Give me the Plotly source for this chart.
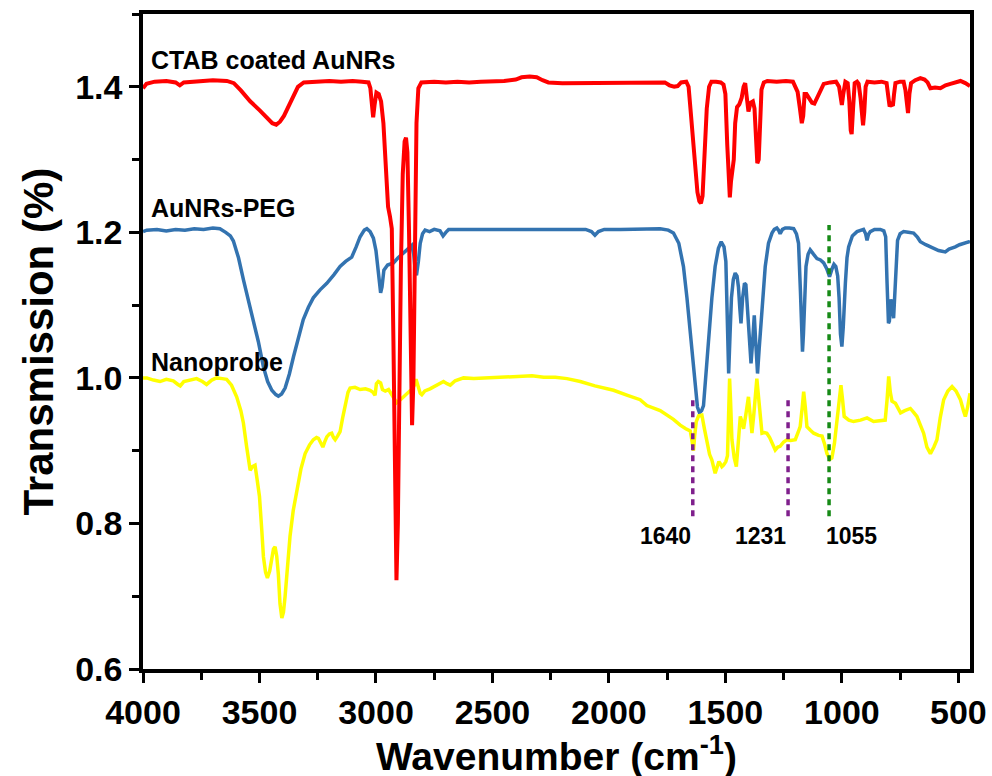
import plotly.graph_objects as go

# FTIR spectra (wavenumber in cm-1, transmission)
ctab_x = [4000, 3985, 3950, 3900, 3860, 3842, 3825, 3760, 3700, 3640, 3610, 3580, 3540, 3500, 3470, 3445,
          3428, 3412, 3395, 3380, 3360, 3335, 3310, 3250, 3200, 3150, 3100, 3060, 3032, 3024, 3018, 3012,
          3006, 2998, 2988, 2978, 2968, 2958, 2948, 2940, 2932, 2925, 2918, 2912, 2906, 2900, 2893, 2885,
          2877, 2871, 2865, 2858, 2851, 2845, 2839, 2833, 2826, 2818, 2805, 2750, 2700, 2650, 2600, 2550,
          2500, 2450, 2400, 2375, 2340, 2310, 2285, 2260, 2200, 2100, 2000, 1900, 1800, 1760, 1740, 1720,
          1705, 1690, 1668, 1658, 1650, 1640, 1630, 1620, 1612, 1605, 1598, 1590, 1580, 1570, 1560, 1540,
          1520, 1508, 1500, 1492, 1486, 1481, 1476, 1470, 1464, 1458, 1450, 1440, 1430, 1422, 1415, 1408,
          1401, 1392, 1382, 1375, 1369, 1363, 1357, 1352, 1345, 1335, 1320, 1280, 1240, 1210, 1198, 1190,
          1180, 1172, 1166, 1160, 1152, 1140, 1128, 1118, 1105, 1090, 1078, 1050, 1025, 1012, 1005, 1000,
          994, 985, 975, 968, 962, 958, 952, 945, 935, 928, 920, 914, 909, 904, 898, 890, 860, 830, 808,
          800, 795, 788, 781, 776, 770, 750, 735, 727, 720, 716, 710, 703, 685, 663, 645, 632, 620, 600,
          577, 555, 534, 510, 491, 470, 450]
ctab_y = [1.398, 1.404, 1.407, 1.408, 1.406, 1.402, 1.406, 1.408, 1.409, 1.408, 1.405, 1.395, 1.380, 1.368,
          1.358, 1.350, 1.348, 1.352, 1.360, 1.370, 1.386, 1.400, 1.406, 1.407, 1.408, 1.407, 1.408, 1.407,
          1.406, 1.398, 1.375, 1.358, 1.375, 1.392, 1.390, 1.380, 1.350, 1.290, 1.235, 1.222, 1.205, 1.050,
          0.820, 0.722, 0.800, 0.980, 1.150, 1.280, 1.325, 1.330, 1.310, 1.200, 1.020, 0.935, 1.000, 1.200,
          1.350, 1.398, 1.406, 1.407, 1.406, 1.407, 1.406, 1.407, 1.407, 1.408, 1.410, 1.413, 1.414, 1.413,
          1.409, 1.406, 1.405, 1.405, 1.405, 1.405, 1.406, 1.406, 1.402, 1.400, 1.401, 1.406, 1.407, 1.400,
          1.370, 1.330, 1.290, 1.255, 1.243, 1.240, 1.250, 1.300, 1.370, 1.400, 1.407, 1.407, 1.406, 1.403,
          1.390, 1.320, 1.262, 1.248, 1.270, 1.283, 1.300, 1.350, 1.372, 1.376, 1.385, 1.400, 1.405, 1.385,
          1.366, 1.378, 1.380, 1.370, 1.320, 1.295, 1.300, 1.360, 1.396, 1.406, 1.408, 1.407, 1.408, 1.407,
          1.400, 1.393, 1.370, 1.350, 1.360, 1.390, 1.390, 1.383, 1.378, 1.377, 1.385, 1.395, 1.404, 1.406,
          1.407, 1.400, 1.380, 1.375, 1.390, 1.407, 1.405, 1.380, 1.340, 1.335, 1.370, 1.405, 1.407, 1.404,
          1.385, 1.355, 1.347, 1.365, 1.400, 1.407, 1.406, 1.407, 1.405, 1.385, 1.373, 1.376, 1.374, 1.390,
          1.405, 1.407, 1.407, 1.395, 1.366, 1.364, 1.390, 1.405, 1.409, 1.412, 1.410, 1.406, 1.398, 1.399,
          1.398, 1.402, 1.404, 1.406, 1.408, 1.405, 1.401]

peg_x = [4000, 3984, 3940, 3900, 3860, 3820, 3780, 3740, 3700, 3670, 3645, 3625, 3612, 3590, 3569, 3548,
         3526, 3505, 3483, 3465, 3447, 3430, 3419, 3405, 3390, 3372, 3354, 3333, 3312, 3290, 3269, 3240,
         3211, 3180, 3154, 3130, 3104, 3085, 3068, 3050, 3039, 3025, 3011, 3000, 2994, 2986, 2980, 2974,
         2966, 2950, 2925, 2905, 2882, 2860, 2846, 2838, 2832, 2826, 2818, 2810, 2800, 2789, 2770, 2750,
         2725, 2712, 2700, 2688, 2650, 2600, 2500, 2400, 2300, 2200, 2100, 2075, 2060, 2045, 2020, 1950,
         1866, 1780, 1745, 1723, 1700, 1680, 1665, 1651, 1640, 1629, 1620, 1611, 1602, 1594, 1583, 1572,
         1558, 1544, 1530, 1518, 1506, 1498, 1492, 1486, 1480, 1474, 1466, 1458, 1450, 1444, 1438, 1433,
         1426, 1418, 1412, 1406, 1401, 1395, 1390, 1383, 1376, 1370, 1362, 1355, 1347, 1338, 1329, 1315,
         1300, 1290, 1279, 1272, 1265, 1255, 1243, 1225, 1207, 1195, 1186, 1178, 1172, 1169, 1165, 1160,
         1154, 1145, 1136, 1122, 1107, 1092, 1078, 1065, 1053, 1042, 1034, 1026, 1018, 1012, 1006, 1000,
         994, 985, 978, 971, 955, 935, 920, 907, 898, 892, 886, 878, 860, 835, 820, 812, 806, 800, 796,
         790, 784, 778, 772, 766, 761, 750, 735, 715, 692, 675, 663, 640, 620, 606, 585, 570, 556, 540,
         525, 513, 495, 475, 456, 450]
peg_y = [1.201, 1.203, 1.204, 1.202, 1.204, 1.203, 1.205, 1.204, 1.206, 1.205, 1.200, 1.195, 1.188, 1.165,
         1.135, 1.108, 1.080, 1.050, 1.015, 0.995, 0.983, 0.977, 0.975, 0.978, 0.986, 1.005, 1.029, 1.055,
         1.080, 1.097, 1.110, 1.121, 1.130, 1.142, 1.153, 1.160, 1.166, 1.180, 1.194, 1.203, 1.205, 1.201,
         1.192, 1.175, 1.158, 1.130, 1.117, 1.125, 1.148, 1.155, 1.158, 1.165, 1.171, 1.178, 1.182, 1.170,
         1.150, 1.141, 1.160, 1.185, 1.198, 1.203, 1.201, 1.204, 1.202, 1.195, 1.200, 1.204, 1.204, 1.204,
         1.205, 1.205, 1.204, 1.204, 1.204, 1.201, 1.196, 1.201, 1.204, 1.204, 1.205, 1.205, 1.203, 1.199,
         1.185, 1.153, 1.110, 1.062, 1.020, 0.979, 0.960, 0.952, 0.955, 0.962, 1.010, 1.062, 1.110, 1.153,
         1.178, 1.187, 1.180, 1.160, 1.080, 1.006, 1.060, 1.110, 1.135, 1.144, 1.140, 1.125, 1.095, 1.075,
         1.110, 1.130, 1.128, 1.100, 1.070, 1.040, 1.020, 1.050, 1.086, 1.050, 1.006, 1.040, 1.080, 1.120,
         1.153, 1.185, 1.199, 1.204, 1.206, 1.203, 1.198, 1.204, 1.206, 1.206, 1.205, 1.198, 1.185, 1.120,
         1.060, 1.036, 1.060, 1.110, 1.153, 1.170, 1.176, 1.170, 1.164, 1.162, 1.158, 1.150, 1.139, 1.150,
         1.156, 1.153, 1.140, 1.110, 1.060, 1.043, 1.070, 1.130, 1.165, 1.180, 1.195, 1.201, 1.203, 1.204,
         1.198, 1.189, 1.197, 1.201, 1.204, 1.204, 1.202, 1.194, 1.130, 1.075, 1.078, 1.108, 1.100, 1.082,
         1.120, 1.175, 1.189, 1.198, 1.201, 1.200, 1.199, 1.193, 1.187, 1.183, 1.180, 1.178, 1.175, 1.174,
         1.173, 1.177, 1.178, 1.180, 1.183, 1.185, 1.187, 1.186]

probe_x = [4000, 3984, 3955, 3927, 3900, 3870, 3850, 3840, 3825, 3800, 3770, 3745, 3727, 3705, 3684, 3660,
           3641, 3620, 3598, 3580, 3569, 3555, 3548, 3540, 3530, 3519, 3510, 3500, 3490, 3483, 3474, 3466,
           3456, 3447, 3440, 3433, 3426, 3419, 3412, 3404, 3397, 3390, 3380, 3369, 3355, 3340, 3322, 3304,
           3285, 3269, 3255, 3247, 3238, 3228, 3220, 3211, 3200, 3190, 3182, 3175, 3165, 3154, 3143, 3132,
           3120, 3111, 3090, 3068, 3045, 3025, 3012, 3004, 2998, 2990, 2980, 2972, 2960, 2946, 2930, 2911,
           2895, 2880, 2868, 2855, 2846, 2835, 2828, 2820, 2810, 2803, 2790, 2768, 2740, 2710, 2695, 2681,
           2660, 2624, 2580, 2530, 2480, 2430, 2380, 2330, 2280, 2230, 2180, 2123, 2060, 1980, 1920, 1866,
           1837, 1780, 1723, 1694, 1670, 1651, 1644, 1637, 1632, 1625, 1615, 1601, 1590, 1580, 1568, 1558,
           1550, 1544, 1535, 1528, 1522, 1515, 1508, 1498, 1491, 1487, 1482, 1478, 1472, 1462, 1453, 1445,
           1436, 1429, 1422, 1412, 1405, 1401, 1394, 1386, 1378, 1370, 1365, 1358, 1350, 1343, 1333, 1322,
           1310, 1298, 1286, 1275, 1265, 1250, 1236, 1220, 1200, 1188, 1179, 1170, 1164, 1157, 1150, 1135,
           1121, 1100, 1085, 1075, 1064, 1052, 1043, 1032, 1021, 1012, 1004, 997, 990, 970, 950, 920, 892,
           864, 840, 814, 806, 799, 792, 785, 770, 760, 748, 730, 706, 690, 678, 663, 649, 635, 620, 605,
           592, 578, 563, 545, 527, 510, 491, 478, 470, 460, 450]
probe_y = [1.000, 1.000, 0.997, 0.995, 0.998, 0.996, 0.991, 0.989, 0.995, 0.997, 0.999, 0.995, 0.991, 0.997,
           1.000, 0.999, 0.998, 0.990, 0.974, 0.955, 0.938, 0.905, 0.887, 0.873, 0.878, 0.880, 0.860, 0.837,
           0.790, 0.754, 0.733, 0.725, 0.735, 0.752, 0.765, 0.768, 0.755, 0.730, 0.690, 0.670, 0.678, 0.700,
           0.745, 0.782, 0.818, 0.846, 0.875, 0.896, 0.908, 0.915, 0.918, 0.917, 0.912, 0.905, 0.912, 0.919,
           0.923, 0.924, 0.918, 0.915, 0.920, 0.926, 0.945, 0.962, 0.980, 0.986, 0.987, 0.984, 0.985, 0.983,
           0.980, 0.976, 0.992, 0.995, 0.993, 0.984, 0.982, 0.984, 0.975, 0.966, 0.970, 0.975, 0.979, 0.982,
           0.984, 0.990, 0.998, 0.990, 0.979, 0.977, 0.982, 0.985, 0.990, 0.995, 0.992, 0.990, 0.996, 1.000,
           0.999, 1.000, 1.001, 1.001, 1.002, 1.003, 1.001, 1.001, 0.999, 0.995, 0.989, 0.983, 0.976, 0.970,
           0.962, 0.955, 0.943, 0.935, 0.930, 0.927, 0.915, 0.900, 0.920, 0.940, 0.948, 0.949, 0.930, 0.915,
           0.895, 0.887, 0.875, 0.869, 0.878, 0.885, 0.882, 0.878, 0.880, 0.885, 0.893, 0.950, 0.999, 0.970,
           0.915, 0.890, 0.878, 0.910, 0.947, 0.940, 0.930, 0.950, 0.972, 0.974, 0.950, 0.924, 0.950, 0.985,
           0.999, 0.975, 0.940, 0.924, 0.925, 0.924, 0.918, 0.908, 0.901, 0.905, 0.906, 0.912, 0.915, 0.914,
           0.915, 0.925, 0.933, 0.960, 0.981, 0.960, 0.933, 0.928, 0.924, 0.921, 0.920, 0.910, 0.896, 0.888,
           0.890, 0.910, 0.938, 0.970, 0.990, 0.970, 0.947, 0.942, 0.940, 0.942, 0.945, 0.940, 0.941, 0.942,
           0.970, 1.002, 0.980, 0.968, 0.965, 0.960, 0.952, 0.955, 0.958, 0.952, 0.947, 0.935, 0.924, 0.905,
           0.896, 0.905, 0.915, 0.945, 0.970, 0.982, 0.988, 0.982, 0.970, 0.955, 0.947, 0.960, 0.979]

# marked bands (dotted guides)
band_wn = [1640, 1231, 1055]
band_labels = ["1640", "1231", "1055"]
band_bottom = [0.81, 0.81, 0.81]
band_top = [0.975, 0.975, 1.21]
band_colors = ["#7F1F8C", "#7F1F8C", "#168A16"]
band_label_side = ["right", "right", "left"]

series_names = ["CTAB coated AuNRs", "AuNRs-PEG", "Nanoprobe"]
series_label_y = [1.437, 1.233, 1.022]

FONT = "Liberation Sans, Arial, sans-serif"

fig = go.Figure()

fig.add_trace(go.Scatter(x=peg_x, y=peg_y, mode="lines", name=series_names[1],
                         line=dict(color="#3373B0", width=3.5)))
fig.add_trace(go.Scatter(x=probe_x, y=probe_y, mode="lines", name=series_names[2],
                         line=dict(color="#FFFF00", width=3.5)))
fig.add_trace(go.Scatter(x=ctab_x, y=ctab_y, mode="lines", name=series_names[0],
                         line=dict(color="#FF0000", width=4)))

for wn, y0, y1, col in zip(band_wn, band_bottom, band_top, band_colors):
    fig.add_shape(type="line", xref="x", yref="y", x0=wn, x1=wn, y0=y0, y1=y1,
                  line=dict(color=col, width=3.5, dash="6px,5px"))

for wn, lab, side in zip(band_wn, band_labels, band_label_side):
    fig.add_annotation(x=wn, y=0.783, text="<b>%s</b>" % lab, showarrow=False,
                       xanchor=side, xshift=0 if side == "right" else -5,
                       font=dict(family=FONT, size=23, color="black"))

# series names
for txt, yy in zip(series_names, series_label_y):
    fig.add_annotation(x=3975, y=yy, text="<b>%s</b>" % txt, showarrow=False,
                       xanchor="left", font=dict(family=FONT, size=25, color="black"))

# axis titles
fig.add_annotation(xref="paper", yref="paper", x=0.5, y=0, yshift=-84, yanchor="middle",
                   text="<b>Wavenumber (cm<sup>-1</sup>)</b>", showarrow=False,
                   font=dict(family=FONT, size=39, color="black"))
fig.add_annotation(xref="paper", yref="paper", x=0, xshift=-105, y=0.5, textangle=-90,
                   xanchor="center", yanchor="middle",
                   text="<b>Transmission (%)</b>", showarrow=False,
                   font=dict(family=FONT, size=42, color="black"))

axis_common = dict(
    showgrid=False, zeroline=False, showline=True, linecolor="black", linewidth=3.5,
    mirror=True, ticks="outside", ticklen=10, tickwidth=3, tickcolor="black",
    automargin=False, ticklabeloverflow="allow",
    tickfont=dict(family=FONT, size=34, color="black", weight="bold"),
)

fig.update_layout(
    width=992, height=776,
    paper_bgcolor="white", plot_bgcolor="white",
    showlegend=False,
    margin=dict(l=143, r=22, t=14, b=107),
    xaxis=dict(
        range=[4000, 450], tickmode="array", tickvals=[4000, 3500, 3000, 2500, 2000, 1500, 1000, 500],
        minor=dict(ticks="outside", ticklen=7, tickwidth=3, tickcolor="black", dtick=250),
        **axis_common,
    ),
    yaxis=dict(
        range=[0.6, 1.5], tickmode="array", tickvals=[0.6, 0.8, 1.0, 1.2, 1.4],
        ticktext=["0.6", "0.8", "1.0", "1.2", "1.4"],
        minor=dict(ticks="outside", ticklen=7, tickwidth=3, tickcolor="black", dtick=0.1),
        **axis_common,
    ),
)

# drop the default page margin so the figure sits at the window corner
fig.write_html("out.html", config={"displayModeBar": False},
               post_script="document.body.style.margin='0';")
